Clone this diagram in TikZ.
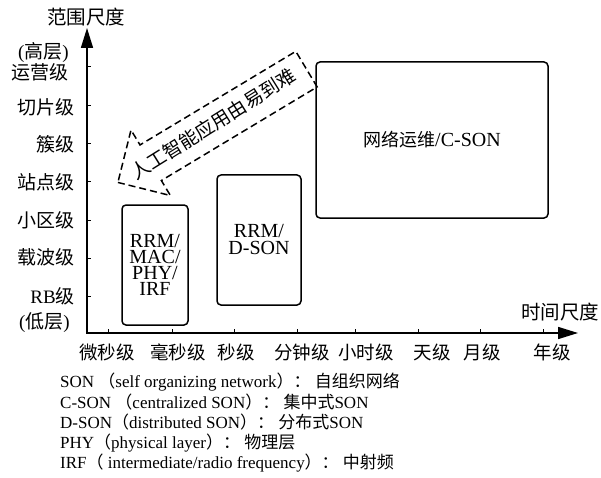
\documentclass[tikz,border=0pt]{standalone}
\usepackage{fontspec}
\setmainfont{Liberation Serif}
\newfontfamily\cjk{Noto Sans CJK SC}
\newcommand{\zh}[1]{{\cjk #1}}
\usetikzlibrary{arrows.meta,shapes.arrows,positioning}

\begin{document}
\begin{tikzpicture}[x=1pt,y=-1pt]

\tikzset{axis/.style={line width=1.6pt,{Triangle[length=20pt,width=12pt]}-{Triangle[length=20pt,width=12pt]}},
tick/.style={line width=1pt},
level/.style={anchor=east,inner sep=0pt,font=\fontsize{19}{19}\selectfont},
timescale/.style={inner sep=0pt,font=\fontsize{18.5}{19}\selectfont},
axisname/.style={inner sep=0pt,font=\fontsize{19.5}{20}\selectfont},
box/.style={draw,line width=1.5pt,rounded corners=4pt,align=center,inner sep=0pt},
trend/.style={draw,line width=1.5pt,dash pattern=on 7pt off 4pt,shape=single arrow,shape border rotate=180,rotate=31,
  single arrow head extend=17.5pt,minimum height=220pt,inner xsep=0pt,inner ysep=20pt,text height=0pt,text depth=0pt},
trendtext/.style={rotate=32,inner sep=0pt,font=\fontsize{19}{19}\selectfont},
legend/.style={anchor=west,inner sep=0pt,font=\fontsize{17}{17}\selectfont}}

\useasboundingbox (0,0) rectangle (601,478);

% Axes
\coordinate (ytop) at (87,28);
\coordinate (o) at (87,333);
\coordinate (xend) at (578,333);
\draw [axis] (ytop) -- (o) -- (xend);
\node (yname) [axisname] at (86,17) {\zh{范围尺度}};
\node (xname) [axisname] at (560,312) {\zh{时间尺度}};

% Range scale
\foreach \y in {67,106,144,182,220,258,296}
  \draw [tick] (87,\y) -- ++(4,0);
\node (high) [level] at (69,53) {(\zh{高层})};
\node (ops) [level] at (69,72) {\zh{运营级}};
\node (slice) [level] at (75,107) {\zh{切片级}};
\node (cluster) [level] at (75,144) {\zh{簇级}};
\node (site) [level] at (75,182) {\zh{站点级}};
\node (cell) [level] at (75,220) {\zh{小区级}};
\node (carrier) [level] at (75,257) {\zh{载波级}};
\node (rb) [level] at (75,296) {RB\zh{级}};
\node (low) [level] at (70,323) {(\zh{低层})};

% Time scale
\foreach \x in {108,172,234,297,355,418,480,543}
  \draw [tick] (\x,333) -- ++(0,-4);
\node (us) [timescale] at (107,352) {\zh{微秒级}};
\node (ms) [timescale] at (178,352) {\zh{毫秒级}};
\node (sec) [timescale] at (236,352) {\zh{秒级}};
\node (min) [timescale] at (302,352) {\zh{分钟级}};
\node (hour) [timescale] at (366,352) {\zh{小时级}};
\node (day) [timescale] at (432,352) {\zh{天级}};
\node (month) [timescale] at (482,352) {\zh{月级}};
\node (year) [timescale] at (552,352) {\zh{年级}};

% Functions
\node (phy) [box,minimum width=66pt,minimum height=120pt,font=\fontsize{20}{16}\selectfont] at (155,265) {RRM/\\MAC/\\PHY/\\IRF};
\node (dson) [box,minimum width=84pt,minimum height=130pt,font=\fontsize{20}{17}\selectfont] at (259,240) {RRM/\\D-SON};
\node (cson) [box,minimum width=232pt,minimum height=156pt,font=\fontsize{20}{20}\selectfont] at (432,140) {{\cjk\fontsize{18}{18}\selectfont 网络运维}/C-SON};

% AI trend
\node (trend) [trend,anchor=tip] at (117,183) {};
\node (trendlabel) [trendtext] at (213,124) {\zh{人工智能应用由易到难}};

% Legend
\node (l1) [legend] at (60,382) {SON \zh{（}self organizing network\zh{）：} \zh{自组织网络}};
\node (l2) [legend] at (60,402) {C-SON \zh{（}centralized SON\zh{）：} \zh{集中式}SON};
\node (l3) [legend] at (60,422) {D-SON\zh{（}distributed SON\zh{）：} \zh{分布式}SON};
\node (l4) [legend] at (60,443) {PHY\zh{（}physical layer\zh{）：} \zh{物理层}};
\node (l5) [legend] at (60,463) {IRF\zh{（} intermediate/radio frequency\zh{）：} \zh{中射频}};

\end{tikzpicture}
\end{document}
